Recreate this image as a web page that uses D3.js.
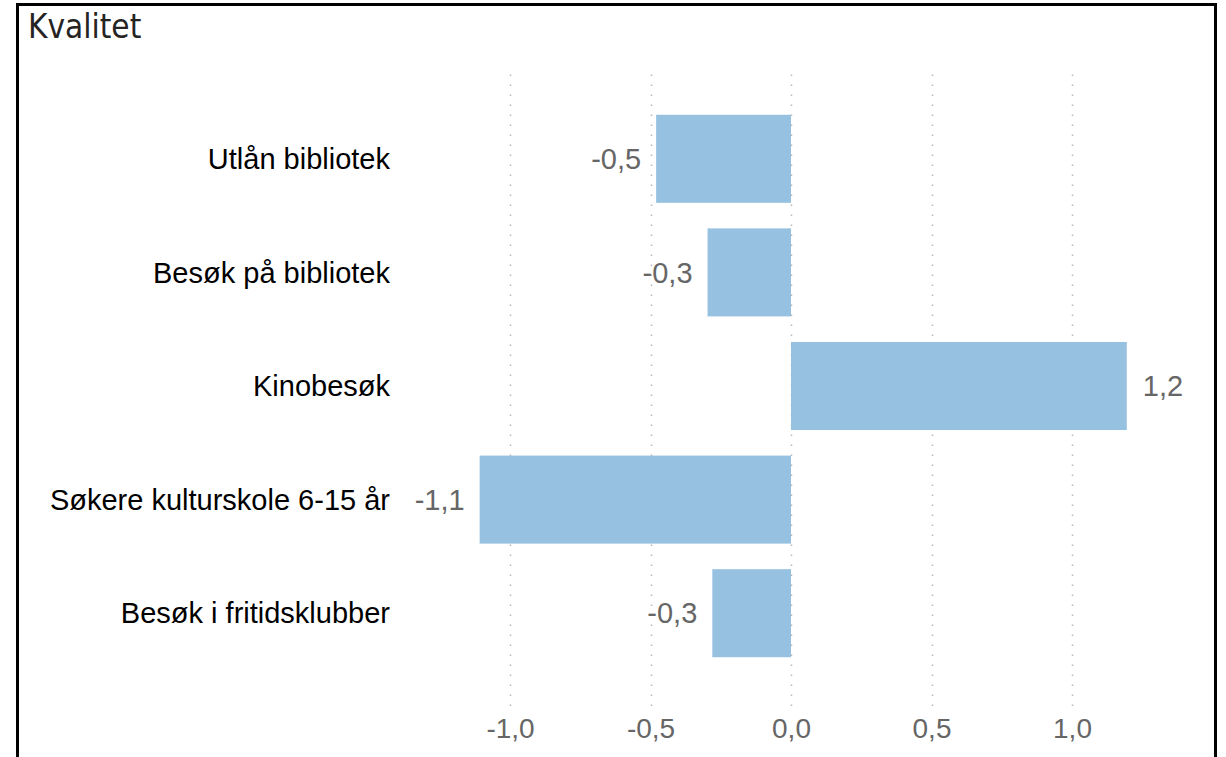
<!DOCTYPE html>
<html>
<head>
<meta charset="utf-8">
<script src="https://cdn.jsdelivr.net/npm/d3@7"></script>
<style>
  body { margin: 0; background: #fff; }
  svg { display: block; }
</style>
</head>
<body>
<div id="chart"></div>
<script>
// Data
const categories = ["Utlån bibliotek", "Besøk på bibliotek", "Kinobesøk", "Søkere kulturskole 6-15 år", "Besøk i fritidsklubber"];
const values = [-0.48, -0.297, 1.195, -1.108, -0.28];
const tickValues = [-1, -0.5, 0, 0.5, 1];
const title = "Kvalitet";

const W = 1226, H = 757;
const fmt = d => d3.format(".1f")(d).replace(".", ",").replace("−", "-");

const svg = d3.select("#chart").append("svg")
  .attr("width", W)
  .attr("height", H);

// frame (no bottom edge visible)
svg.append("path")
  .attr("d", `M17.5,${H + 5} V4.5 H1215.5 V${H + 5}`)
  .attr("fill", "none")
  .attr("stroke", "#000")
  .attr("stroke-width", 3);

svg.append("text")
  .attr("x", 28)
  .attr("y", 38)
  .attr("font-family", "'DejaVu Sans Condensed', 'DejaVu Sans', sans-serif")
  .attr("font-size", 33)
  .attr("fill", "#252423")
  .text(title);

// Scales
const x = d3.scaleLinear()
  .domain([-1, 1])
  .range([510, 1072]);

const y = d3.scaleBand()
  .domain(categories)
  .range([102, 670])
  .paddingInner(0.225)
  .paddingOuter(0.1125);

// Gridlines
svg.append("g")
  .selectAll("line")
  .data(tickValues)
  .join("line")
  .attr("x1", d => Math.round(x(d)) + 0.5)
  .attr("x2", d => Math.round(x(d)) + 0.5)
  .attr("y1", 74.5)
  .attr("y2", 706)
  .attr("stroke", "#b8b8b8")
  .attr("stroke-width", 1.5)
  .attr("stroke-dasharray", "1.5,8.5");

// Bars
const rows = categories.map((c, i) => ({ cat: c, val: values[i] }));

svg.append("g")
  .selectAll("rect")
  .data(rows)
  .join("rect")
  .attr("x", d => x(Math.min(0, d.val)))
  .attr("width", d => Math.abs(x(d.val) - x(0)))
  .attr("y", d => y(d.cat))
  .attr("height", y.bandwidth())
  .attr("fill", "#97c1e1");

const font = "'Liberation Sans', Arial, sans-serif";

// Category labels
svg.append("g")
  .selectAll("text")
  .data(rows)
  .join("text")
  .attr("x", 390)
  .attr("y", d => y(d.cat) + y.bandwidth() / 2)
  .attr("dy", "0.35em")
  .attr("text-anchor", "end")
  .attr("font-family", font)
  .attr("font-size", 29)
  .attr("fill", "#000")
  .text(d => d.cat);

// Value labels
svg.append("g")
  .selectAll("text")
  .data(rows)
  .join("text")
  .attr("x", d => d.val < 0 ? x(d.val) - 15 : x(d.val) + 16)
  .attr("y", d => y(d.cat) + y.bandwidth() / 2)
  .attr("dy", "0.35em")
  .attr("text-anchor", d => d.val < 0 ? "end" : "start")
  .attr("font-family", font)
  .attr("font-size", 29)
  .attr("fill", "#666")
  .text(d => fmt(d.val));

// X axis
const xAxis = svg.append("g")
  .attr("transform", "translate(0,718)")
  .call(d3.axisBottom(x).tickValues(tickValues).tickSize(0).tickPadding(0).tickFormat(fmt));

xAxis.select(".domain").remove();
xAxis.selectAll("text")
  .attr("font-family", font)
  .attr("font-size", 28)
  .attr("fill", "#666")
  .attr("dy", "0.71em");
</script>
</body>
</html>
